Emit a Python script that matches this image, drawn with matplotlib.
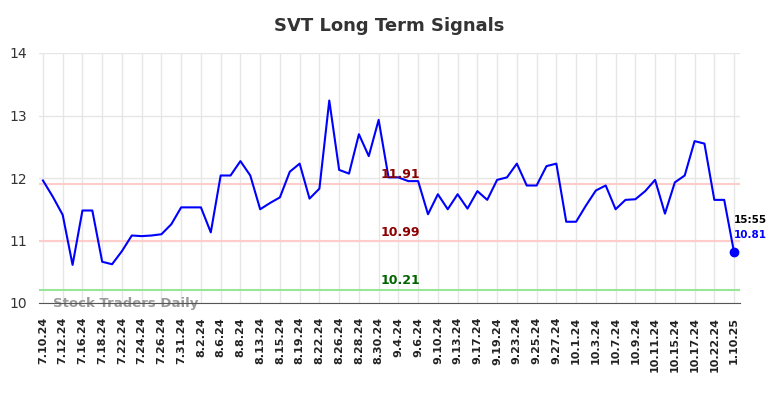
import matplotlib
matplotlib.use("Agg")
import matplotlib.pyplot as plt

title = "SVT Long Term Signals"
values = [11.96, 11.70, 11.41, 10.61, 11.48, 11.48, 10.66, 10.62, 10.83, 11.08,
          11.07, 11.08, 11.10, 11.26, 11.53, 11.53, 11.53, 11.13, 12.04, 12.04,
          12.27, 12.04, 11.50, 11.60, 11.69, 12.10, 12.23, 11.67, 11.83, 13.24,
          12.13, 12.07, 12.70, 12.35, 12.93, 12.01, 12.01, 11.95, 11.95, 11.42,
          11.74, 11.50, 11.74, 11.51, 11.79, 11.65, 11.97, 12.01, 12.23, 11.88,
          11.88, 12.19, 12.23, 11.30, 11.30, 11.56, 11.80, 11.88, 11.50, 11.65,
          11.66, 11.79, 11.97, 11.43, 11.93, 12.04, 12.59, 12.55, 11.65, 11.65,
          10.81]
tick_labels = ["7.10.24", "7.12.24", "7.16.24", "7.18.24", "7.22.24", "7.24.24",
               "7.26.24", "7.31.24", "8.2.24", "8.6.24", "8.8.24", "8.13.24",
               "8.15.24", "8.19.24", "8.22.24", "8.26.24", "8.28.24", "8.30.24",
               "9.4.24", "9.6.24", "9.10.24", "9.13.24", "9.17.24", "9.19.24",
               "9.23.24", "9.25.24", "9.27.24", "10.1.24", "10.3.24", "10.7.24",
               "10.9.24", "10.11.24", "10.15.24", "10.17.24", "10.22.24", "1.10.25"]
levels = [11.91, 10.99, 10.21]
level_line_colors = ["#ffcccc", "#ffcccc", "#99e699"]
level_text_colors = ["#8b0000", "#8b0000", "#006400"]
last_time = "15:55"

fig = plt.figure(figsize=(7.84, 3.98), dpi=100)
ax = fig.add_axes([39/784, 1-303/398, (740-39)/784, (303-53)/398])

x = list(range(len(values)))
ax.plot(x, values, color="#0000ff", lw=1.5, zorder=3)
ax.plot(x[-1], values[-1], "o", color="#0000ff", ms=6, zorder=4)

for lv, lc, tc in zip(levels, level_line_colors, level_text_colors):
    ax.axhline(lv, color=lc, lw=1.5, zorder=2)
    ax.text(36.2, lv + 0.04, f"{lv:.2f}", color=tc, fontsize=9, fontweight="bold",
            ha="center", va="bottom", zorder=5)

ax.text(x[-1], values[-1] + 0.52, last_time, color="black", fontsize=7.5,
        fontweight="bold", ha="left", va="center")
ax.text(x[-1], values[-1] + 0.27, f"{values[-1]:.2f}", color="#0000ff", fontsize=7.5,
        fontweight="bold", ha="left", va="center")

ax.text(1, 10.0, "Stock Traders Daily", color="#999999", fontsize=9.5,
        fontweight="bold", ha="left", va="center", zorder=1)

ax.set_xlim(-0.4, 70.6)
ax.set_ylim(10, 14)
ax.set_yticks([10, 11, 12, 13, 14])
ax.set_xticks(x[::2])
ax.set_xticklabels(tick_labels, rotation=90, fontsize=8, fontweight="bold")
ax.tick_params(axis="x", length=0, pad=10, colors="#222222")
ax.tick_params(axis="y", length=0, labelsize=10, colors="#333333")
for lbl in ax.get_yticklabels():
    lbl.set_horizontalalignment("left")
ax.tick_params(axis="y", pad=21)
ax.grid(True, color="#e6e6e6", lw=1)
ax.set_axisbelow(True)
for s in ["top", "right", "left"]:
    ax.spines[s].set_visible(False)
ax.spines["bottom"].set_color("#555555")

fig.suptitle(title, x=(39+740)/2/784, y=1-26/398, va="center", fontsize=13,
             fontweight="bold", color="#333333")

fig.savefig("out.png", dpi=100)
